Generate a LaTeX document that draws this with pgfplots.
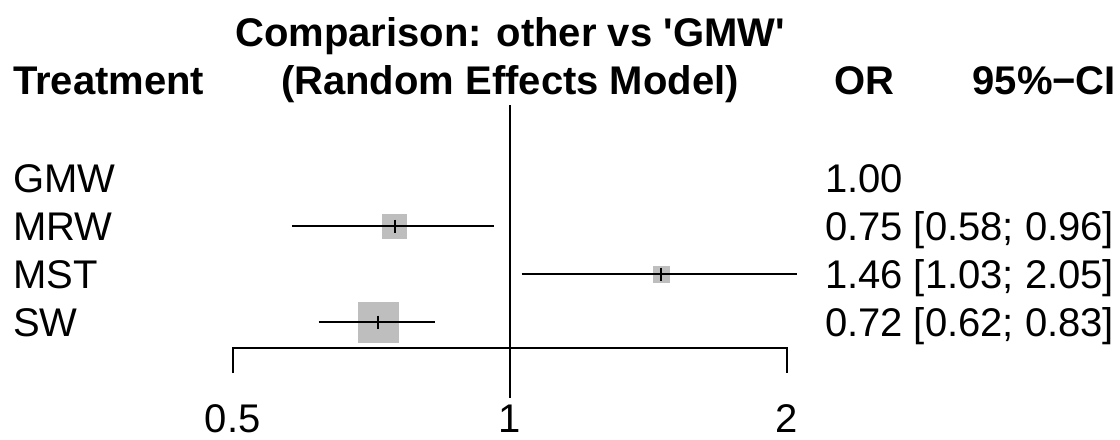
\documentclass[border=0pt]{standalone}
\usepackage{pgfplots}
\pgfplotsset{compat=1.18}
\usepackage{fontspec}
\setmainfont{Liberation Sans}
\definecolor{boxgray}{RGB}{190,190,190}
\begin{document}
\begin{tikzpicture}
\begin{axis}[
  at={(0,0)}, anchor=south west,
  width=560pt, height=218.5pt, scale only axis,
  xmode=log, log basis x=2,
  xmin=0.2793, xmax=4.602,
  ymin=0, ymax=437, y dir=reverse,
  hide axis, clip=false,
  font=\fontsize{20}{24}\selectfont,
]
% boxes (area ~ weight), centred on the estimates 0.75, 1.46, 0.72
\addplot[fill=boxgray, draw=none] coordinates {(0.7269,213.5) (0.7739,213.5) (0.7739,238.5) (0.7269,238.5)} -- cycle;
\addplot[fill=boxgray, draw=none] coordinates {(1.4293,265.5) (1.4914,265.5) (1.4914,282.5) (1.4293,282.5)} -- cycle;
\addplot[fill=boxgray, draw=none] coordinates {(0.6840,301.5) (0.7579,301.5) (0.7579,342.5) (0.6840,342.5)} -- cycle;
% reference line at OR = 1
\addplot[black, line width=1pt] coordinates {(1,105) (1,398)};
% x axis with ticks
\addplot[black, line width=1pt] coordinates {(0.5,373) (0.5,348) (2,348) (2,373)};
% confidence intervals
\addplot[black, line width=1pt] coordinates {(0.58,226) (0.96,226)};
\addplot[black, line width=1pt] coordinates {(1.03,274) (2.05,274)};
\addplot[black, line width=1pt] coordinates {(0.62,322) (0.83,322)};
% point estimate ticks
\addplot[black, line width=1pt] coordinates {(0.75,219.5) (0.75,232.5)};
\addplot[black, line width=1pt] coordinates {(1.46,267.5) (1.46,280.5)};
\addplot[black, line width=1pt] coordinates {(0.72,315.5) (0.72,328.5)};
% tick labels
\node[anchor=base] at (axis cs:0.5,432) {0.5};
\node[anchor=base] at (axis cs:1,432) {1};
\node[anchor=base] at (axis cs:2,432) {2};
\path (rel axis cs:0,0) rectangle (rel axis cs:1,1);
\end{axis}
\begin{scope}[every node/.style={inner sep=0pt, outer sep=0pt, font=\fontsize{20}{24}\selectfont}]
\node[anchor=base] at (255pt,195pt) {\bfseries Comparison: other vs \textquotesingle GMW\textquotesingle};
\node[anchor=base] at (255pt,171.5pt) {\bfseries (Random Effects Model)};
\node[anchor=base west] at (6.5pt,171.5pt) {\bfseries Treatment};
\node[anchor=base] at (432pt,171.5pt) {\bfseries OR};
\node[anchor=base east] at (558pt,171.5pt) {\bfseries 95\%−CI};
\node[anchor=base west] at (6.5pt,122.5pt) {GMW};
\node[anchor=base west] at (6.5pt,98.5pt) {MRW};
\node[anchor=base west] at (6.5pt,74.5pt) {MST};
\node[anchor=base west] at (6.5pt,50.5pt) {SW};
\node[anchor=base west] at (412.5pt,122.5pt) {1.00};
\node[anchor=base west] at (412.5pt,98.5pt) {0.75 [0.58; 0.96]};
\node[anchor=base west] at (412.5pt,74.5pt) {1.46 [1.03; 2.05]};
\node[anchor=base west] at (412.5pt,50.5pt) {0.72 [0.62; 0.83]};
\end{scope}
\end{tikzpicture}
\end{document}
